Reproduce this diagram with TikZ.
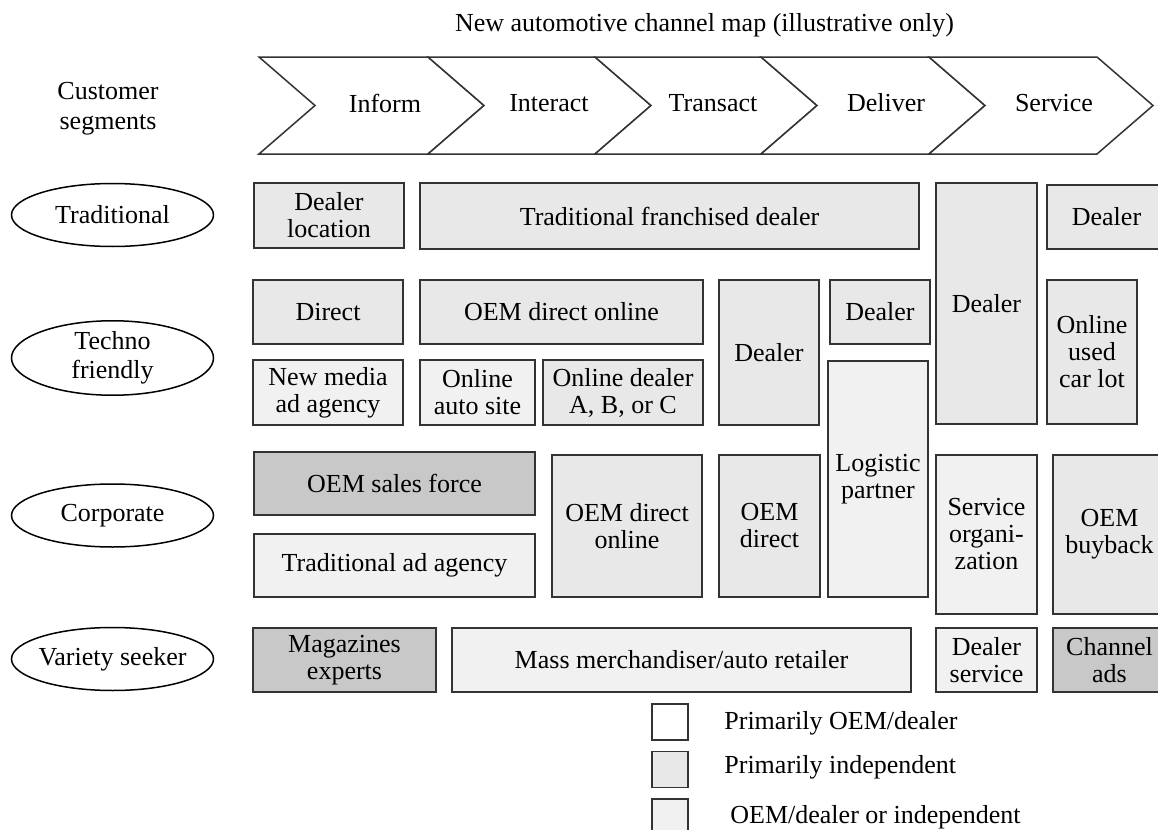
\documentclass[tikz,border=0pt]{standalone}
\usepackage{fontspec}
\setmainfont{Liberation Serif}
\usetikzlibrary{shapes.geometric}
\definecolor{midg}{HTML}{E8E8E8}
\definecolor{lightg}{HTML}{F1F1F1}
\definecolor{darkg}{HTML}{C8C8C8}
\definecolor{edgec}{HTML}{333333}
\tikzset{
  txt/.style={inner sep=0pt, align=center, font=\fontsize{13}{13.5}\selectfont},
  cbox/.style={txt, draw=edgec, line width=0.75pt},
  chev/.style={draw=edgec, line width=0.75pt, fill=white, line join=miter},
  seg/.style={txt, draw=black, line width=0.75pt, ellipse, minimum width=101pt, minimum height=31.5pt, fill=white},
  legbox/.style={draw=edgec, line width=0.75pt, minimum width=18pt, minimum height=18pt, inner sep=0pt},
  legtxt/.style={txt, anchor=west}
}
\newcommand\chbox[7]{\node[cbox,fill=#6,minimum width={(#4-#2)*0.5pt},minimum height={(#5-#3)*0.5pt}] (#1) at ({(#2+#4)/2},{(#3+#5)/2}) {#7};}
\newcommand\chevron[5]{%
  \draw[chev] (#2,57) -- (#3,57) -- ({#3+56},105.5) -- (#3,154) -- (#2,154) -- ({#2+56},105.5) -- cycle;
  \node[txt] (#1) at (#4,103) {#5};}
\begin{document}
\begin{tikzpicture}[x=0.5pt,y=-0.5pt]
\useasboundingbox (0,0) rectangle (1158,830);
% title
\node[txt] (title) at (704.5,25) {New automotive channel map (illustrative only)};
% customer segments header
\node[txt, font=\fontsize{13}{15}\selectfont] (custseg) at (108,109) {Customer\\segments};
% chevrons
\chevron{inform}{259}{428}{385}{Inform}
\chevron{interact}{428}{595}{549}{Interact}
\chevron{transact}{595}{761}{713}{Transact}
\chevron{deliver}{761}{929}{886}{Deliver}
\chevron{service}{929}{1097}{1054}{Service}
% segments
\node[seg] (trad) at (112.5,215) {\makebox[40pt]{Traditional}};
\node[seg, font=\fontsize{13}{14.5}\selectfont] (techno) at (112.5,358) {\makebox[40pt]{Techno}\\\makebox[40pt]{friendly}};
\node[seg] (corp) at (112.5,515.5) {\makebox[40pt]{Corporate}};
\node[seg] (variety) at (112.5,659) {\makebox[40pt]{Variety seeker}};
% row: traditional
\chbox{dloc}{254}{183}{404}{248}{midg}{Dealer\\location}
\chbox{tfd}{420}{183}{919}{249}{midg}{Traditional franchised dealer}
\chbox{dtall}{936}{183}{1037}{424}{midg}{Dealer}
\chbox{dtr}{1047}{185}{1166}{249}{midg}{Dealer}
% row: techno friendly
\chbox{direct}{253}{280}{403}{344}{midg}{Direct}
\chbox{oemdo}{420}{280}{703}{344}{midg}{OEM direct online}
\chbox{dmid}{719}{280}{819}{425}{midg}{Dealer}
\chbox{dsmall}{830}{280}{930}{344}{midg}{Dealer}
\chbox{oucl}{1047}{280}{1137}{424}{midg}{Online\\used\\car lot}
\chbox{nmaa}{253}{360}{403}{425}{lightg}{New media\\ad agency}
\chbox{oas}{420}{360}{535}{425}{lightg}{Online\\auto site}
\chbox{odabc}{543}{360}{703}{425}{midg}{Online dealer\\A, B, or C}
\chbox{logi}{828}{361}{928}{597}{lightg}{Logistic\\partner}
% row: corporate
\chbox{oemsf}{254}{452}{535}{515}{darkg}{OEM sales force}
\chbox{tadag}{254}{534}{535}{597}{lightg}{Traditional ad agency}
\chbox{oemdo2}{552}{455}{702}{597}{midg}{OEM direct\\online}
\chbox{oemd}{719}{455}{820}{597}{midg}{OEM\\direct}
\chbox{servorg}{936}{455}{1037}{614}{lightg}{Service\\organi-\\zation}
\chbox{oembb}{1053}{455}{1166}{614}{midg}{OEM\\buyback}
% row: variety seeker
\chbox{mag}{253}{628}{436}{692}{darkg}{Magazines\\experts}
\chbox{mass}{452}{628}{911}{692}{lightg}{Mass merchandiser/auto retailer}
\chbox{dserv}{936}{628}{1037}{692}{lightg}{Dealer\\service}
\chbox{chads}{1053}{628}{1166}{692}{darkg}{Channel\\ads}
% legend
\node[legbox, fill=white] (lg1) at (670,722) {};
\node[legbox, fill=midg] (lg2) at (670,769.5) {};
\node[legbox, fill=lightg] (lg3) at (670,817) {};
\node[legtxt] (lt1) at (724,723) {Primarily OEM/dealer};
\node[legtxt] (lt2) at (724,767) {Primarily independent};
\node[legtxt] (lt3) at (730,817) {OEM/dealer or independent};
\end{tikzpicture}
\end{document}
